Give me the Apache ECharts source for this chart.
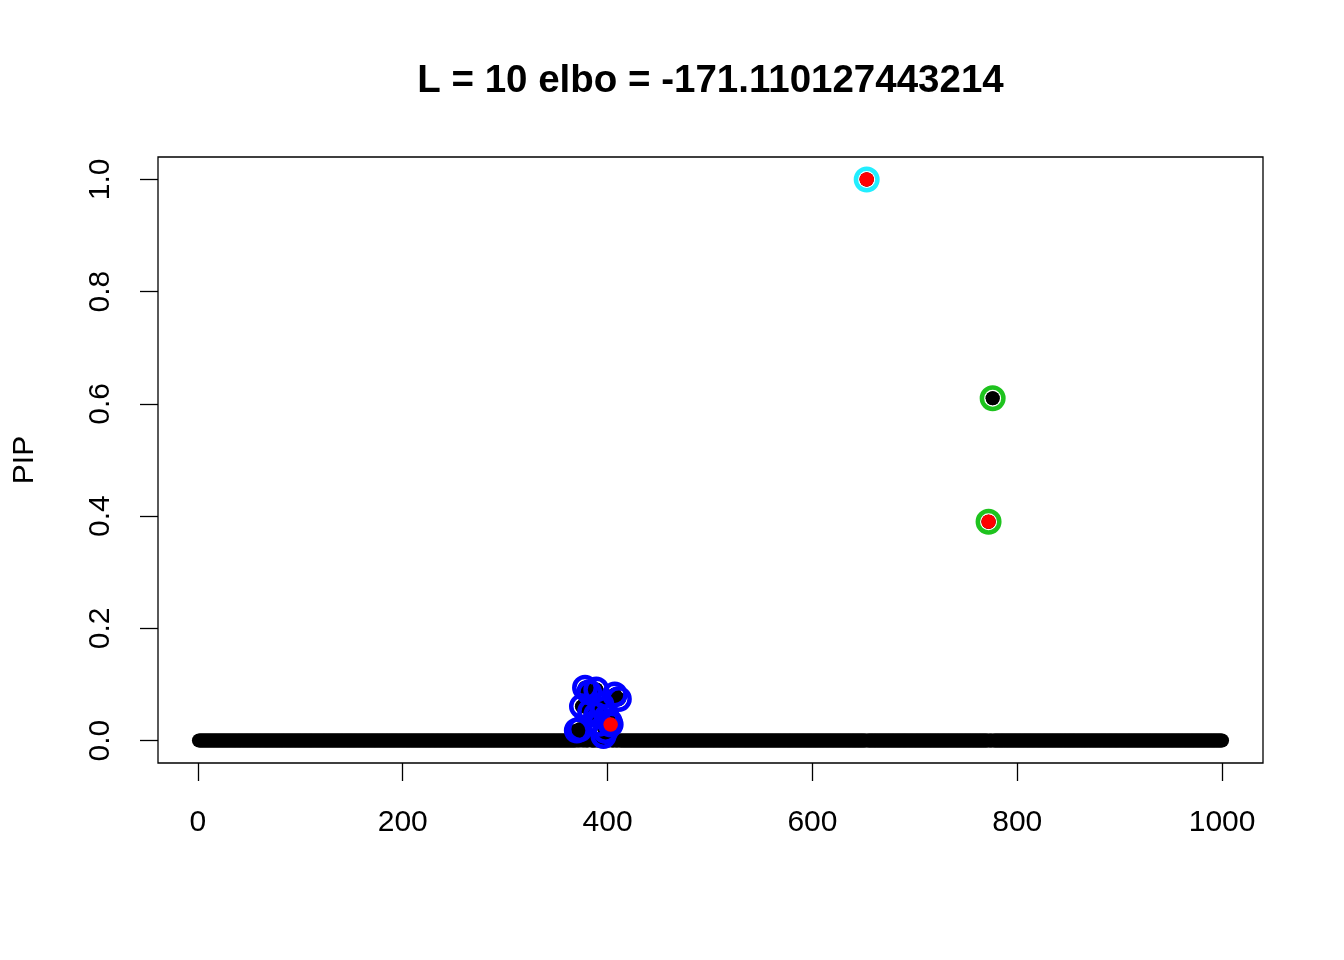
<!DOCTYPE html>
<html>
<head>
<meta charset="utf-8">
<script src="https://cdn.jsdelivr.net/npm/echarts@6/dist/echarts.min.js"></script>
<style>html,body{margin:0;padding:0;background:#fff}#c{width:1344px;height:960px}</style>
</head>
<body>
<div id="c"></div>
<script>
// ---- data ----
const nVariables = 1000;
// variables with a visibly non-zero PIP: [index, pip]; all others sit at ~0
const nonZeroIdx = [378, 382, 389, 407, 411, 375, 383, 389, 370, 373, 396, 398, 402, 394, 399, 392, 403, 653, 776, 772];
const nonZeroPip = [0.094, 0.086, 0.091, 0.082, 0.074, 0.061, 0.052, 0.046, 0.018, 0.020, 0.008, 0.017, 0.034, 0.064, 0.042, 0.030, 0.0285, 1.0, 0.61, 0.39];
// credible sets
const cs1Idx = [378, 382, 389, 407, 411, 375, 383, 389, 370, 373, 396, 398, 402, 394, 399, 392, 403]; // blue
const cs2Idx = [776, 772];  // green
const cs3Idx = [653];       // cyan
// true effect variables (red)
const trueIdx = [653, 772, 403];
const truePip = [1.0, 0.39, 0.0285];
const xTicks = [0, 200, 400, 600, 800, 1000];
const yTicks = [0.0, 0.2, 0.4, 0.6, 0.8, 1.0];
const titleText = 'L = 10 elbo = -171.110127443214';

// ---- build ----
const pip = new Array(nVariables).fill(0);
nonZeroIdx.forEach((v, i) => { pip[v - 1] = Math.max(pip[v - 1], nonZeroPip[i]); });
const allPts = pip.map((p, i) => [i + 1, p]);
nonZeroIdx.forEach((v, i) => { allPts.push([v, nonZeroPip[i]]); });
const cs1Pts = cs1Idx.map((v, i) => [v, nonZeroPip[i]]);
const cs2Pts = cs2Idx.map(v => [v, pip[v - 1]]);
const cs3Pts = cs3Idx.map(v => [v, pip[v - 1]]);
const truePts = trueIdx.map((v, i) => [v, truePip[i]]);

const FONT = 'Liberation Sans, Arial, Helvetica, sans-serif';
const chart = echarts.init(document.getElementById('c'), null, {renderer: 'canvas'});
const ring = (color, data) => ({
  type: 'scatter', data, symbol: 'circle', symbolSize: 21.5,
  itemStyle: {color: 'rgba(0,0,0,0)', borderColor: color, borderWidth: 4.5, opacity: 1},
  emphasis: {disabled: true}, silent: true, z: 3
});
chart.setOption({
  animation: false,
  backgroundColor: '#ffffff',
  grid: {left: 158, right: 81, top: 157, bottom: 197, show: true, borderColor: '#000', borderWidth: 1.3, backgroundColor: 'transparent'},
  xAxis: {
    type: 'value', min: -38.96, max: 1039.96,
    axisLine: {show: false, onZero: false}, splitLine: {show: false},
    axisTick: {show: true, inside: false, length: 18, lineStyle: {color: '#000', width: 1.3}, customValues: xTicks},
    axisLabel: {show: true, margin: 45, fontSize: 30, color: '#000', fontFamily: FONT, customValues: xTicks, formatter: v => String(v)}
  },
  yAxis: {
    type: 'value', min: -0.04, max: 1.04,
    axisLine: {show: false, onZero: false}, splitLine: {show: false},
    axisTick: {show: true, inside: false, length: 18, lineStyle: {color: '#000', width: 1.3}, customValues: yTicks},
    axisLabel: {show: true, rotate: 90, margin: 42, fontSize: 30, color: '#000', fontFamily: FONT, customValues: yTicks, formatter: v => v.toFixed(1)}
  },
  graphic: [
    {type: 'text', x: 710.5, y: 81, style: {text: titleText, font: 'bold 38.5px ' + FONT, fill: '#000', textAlign: 'center', textVerticalAlign: 'middle'}},
    {type: 'text', x: 25, y: 460, rotation: Math.PI / 2, style: {text: 'PIP', font: '30px ' + FONT, fill: '#000', textAlign: 'center', textVerticalAlign: 'middle'}}
  ],
  series: [
    {type: 'scatter', data: allPts, symbol: 'circle', symbolSize: 14, itemStyle: {color: '#000', opacity: 1}, emphasis: {disabled: true}, silent: true, z: 2},
    ring('#0000FF', cs1Pts),
    ring('#1EC31E', cs2Pts),
    ring('#22EEFF', cs3Pts),
    {type: 'scatter', data: truePts, symbol: 'circle', symbolSize: 14.5, itemStyle: {color: '#FF0000', opacity: 1}, emphasis: {disabled: true}, silent: true, z: 4}
  ]
});
</script>
</body>
</html>
